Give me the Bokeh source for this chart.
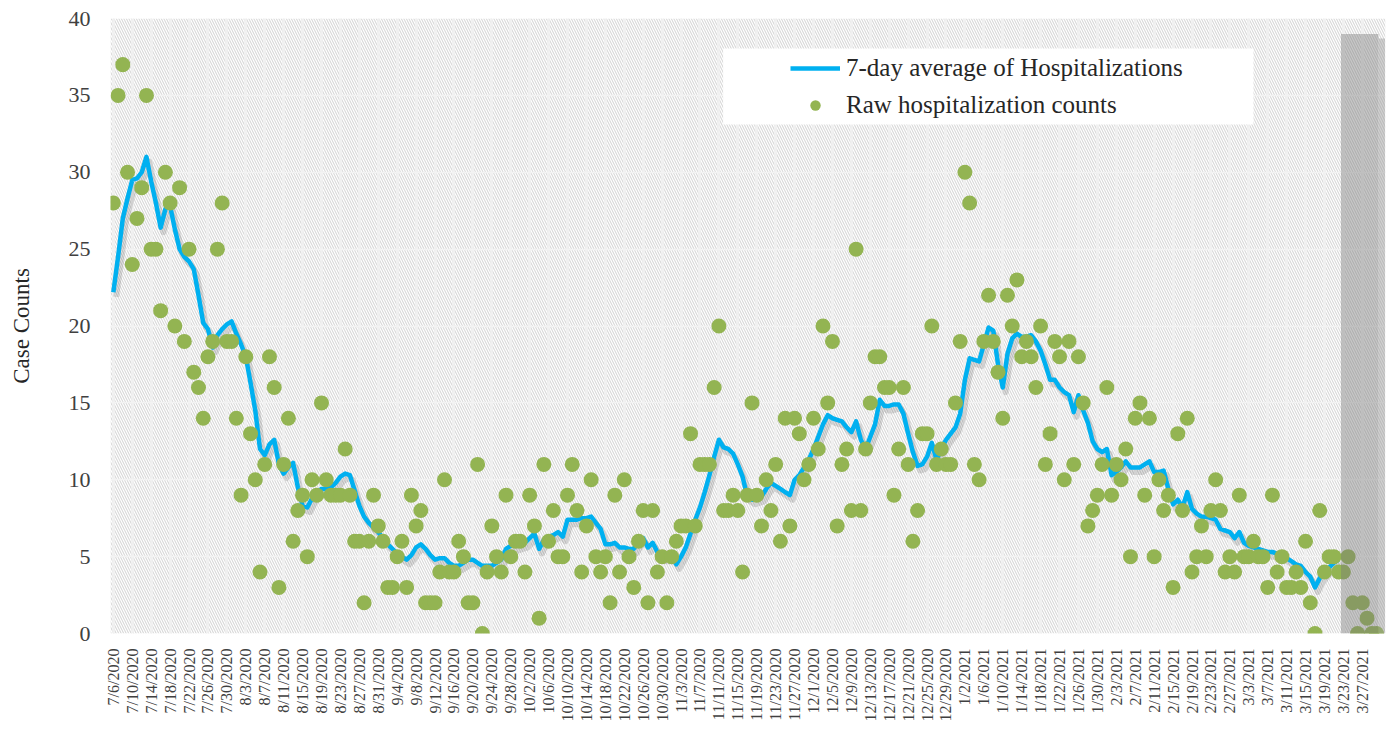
import math
import pandas as pd
from bokeh.plotting import figure
from bokeh.models import (ColumnDataSource, BoxAnnotation, Legend, LegendItem,
                          FixedTicker, Range1d)
from bokeh.transform import dodge
from bokeh.embed import file_html
from bokeh.resources import INLINE

# ---------------- data ----------------
start_date = "2020-07-06"

raw_counts = [
    28, 35, 37, 30, 24, 27, 29, 35, 25, 25,
    21, 30, 28, 20, 29, 19, 25, 17, 16, 14,
    18, 19, 25, 28, 19, 19, 14, 9, 18, 13,
    10, 4, 11, 18, 16, 3, 11, 14, 6, 8,
    9, 5, 10, 9, 15, 10, 9, 9, 9, 12,
    9, 6, 6, 2, 6, 9, 7, 6, 3, 3,
    5, 6, 3, 9, 7, 8, 2, 2, 2, 4,
    10, 4, 4, 6, 5, 2, 2, 11, 0, 4,
    7, 5, 4, 9, 5, 6, 6, 4, 9, 7,
    1, 11, 6, 8, 5, 5, 9, 11, 8, 4,
    7, 10, 5, 4, 5, 2, 9, 4, 10, 5,
    3, 6, 8, 2, 8, 4, 5, 2, 5, 6,
    7, 7, 13, 7, 11, 11, 11, 16, 20, 8,
    8, 9, 8, 4, 9, 15, 9, 7, 10, 8,
    11, 6, 14, 7, 14, 13, 10, 11, 14, 12,
    20, 15, 19, 7, 11, 12, 8, 25, 8, 12,
    15, 18, 18, 16, 16, 9, 12, 16, 11, 6,
    8, 13, 13, 20, 11, 12, 11, 11, 15, 19,
    30, 28, 11, 10, 19, 22, 19, 17, 14, 22,
    20, 23, 18, 19, 18, 16, 20, 11, 13, 19,
    18, 10, 19, 11, 18, 15, 7, 8, 9, 11,
    16, 9, 11, 10, 12, 5, 14, 15, 9, 14,
    5, 10, 8, 9, 3, 13, 8, 14, 4, 5,
    7, 5, 8, 10, 8, 4, 5, 4, 9, 5,
    5, 6, 5, 5, 3, 9, 4, 5, 3, 3,
    4, 3, 6, 2, 0, 8, 4, 5, 5, 4,
    4, 5, 2, 0, 2, 1, 0, 0,
]

avg_7day = [
    22.2, 24.5, 27.0, 28.3, 29.5, 29.6, 30.0, 31.0, 29.4, 28.0,
    26.4, 27.6, 27.8, 26.3, 25.0, 24.5, 24.2, 23.7, 22.0, 20.2,
    19.8, 18.6, 19.4, 19.8, 20.1, 20.3, 19.5, 18.8, 18.0, 16.3,
    14.5, 12.0, 11.6, 12.3, 12.6, 11.0, 10.4, 10.8, 11.1, 9.5,
    8.3, 8.2, 8.8, 9.2, 9.4, 9.4, 9.5, 9.8, 10.2, 10.4,
    10.3, 9.3, 8.3, 7.6, 7.2, 6.9, 6.6, 6.2, 5.8, 5.5,
    5.2, 5.0, 4.8, 5.1, 5.6, 5.8, 5.5, 5.1, 4.8, 4.9,
    4.9, 4.6, 4.4, 4.4, 4.6, 4.8, 4.8, 4.6, 4.4, 4.4,
    4.4, 4.6, 4.8, 5.5, 5.7, 5.7, 5.8, 5.9, 6.2, 6.5,
    5.5, 6.1, 6.3, 6.4, 6.6, 6.3, 7.4, 7.4, 7.4, 7.5,
    7.5, 7.6, 7.2, 6.8, 5.8, 5.8, 5.9, 5.6, 5.6, 5.5,
    5.5, 6.0, 6.2, 5.6, 5.9, 5.3, 5.0, 5.0, 5.0, 4.5,
    5.0, 5.6, 6.5, 7.4, 8.2, 9.2, 10.3, 11.5, 12.6, 12.1,
    12.0, 11.7, 11.0, 10.2, 8.9, 8.7, 8.8, 8.9, 9.4, 9.8,
    9.6, 9.4, 9.2, 9.0, 10.0, 10.3, 10.8, 11.3, 12.0, 12.8,
    13.6, 14.2, 14.0, 13.9, 13.8, 13.4, 13.1, 13.8, 12.6, 12.0,
    12.8, 13.6, 15.2, 14.8, 14.8, 14.9, 14.9, 14.3, 13.0, 11.8,
    10.9, 11.0, 11.5, 12.4, 11.3, 12.0, 12.6, 13.0, 13.4, 14.3,
    16.5, 17.9, 17.8, 17.7, 18.8, 19.9, 19.7, 17.5, 16.0, 18.2,
    19.2, 19.5, 19.3, 19.3, 19.4, 19.0, 18.4, 17.5, 16.5, 16.5,
    16.0, 15.7, 15.5, 14.4, 15.5, 14.5, 13.7, 12.5, 12.0, 11.8,
    12.0, 10.3, 10.5, 10.8, 11.2, 10.8, 10.8, 10.8, 11.0, 11.2,
    10.5, 10.5, 10.6, 9.4, 8.4, 8.7, 8.2, 9.2, 8.1, 7.8,
    7.6, 7.6, 7.5, 7.4, 6.8, 6.7, 6.6, 6.2, 6.6, 5.9,
    5.7, 5.6, 5.5, 5.4, 5.3, 5.3, 5.2, 5.1, 4.9, 4.7,
    4.5, 4.4, 4.0, 3.7, 3.0, 3.6, 4.0, 4.3, 4.6, 4.8,
]

tick_every_days = 4
shade_after_date = "3/22/2021"   # grey shaded (incomplete data) period starts after this day
shade_top_value = 39

legend_line_label = "7-day average of Hospitalizations"
legend_dot_label = "Raw hospitalization counts"
y_label = "Case Counts"

# ---------------- derived ----------------
dates = pd.date_range(start_date, periods=len(raw_counts), freq="D")
date_labels = [f"{d.month}/{d.day}/{d.year}" for d in dates]
day_idx = list(range(len(raw_counts)))
tick_pos = day_idx[::tick_every_days]

raw_src = ColumnDataSource(dict(x=day_idx, y=raw_counts))
avg_src = ColumnDataSource(dict(x=day_idx[:len(avg_7day)], y=avg_7day))

X_START, X_END = -0.6, 268.9
FONT = "Liberation Serif"

p = figure(width=1390, height=724,
           x_range=Range1d(X_START, X_END), y_range=Range1d(0, 40),
           output_backend="svg", toolbar_location=None,
           min_border_left=110, min_border_right=5,
           min_border_top=18, min_border_bottom=90)
p.outline_line_color = None
p.background_fill_color = "white"
p.border_fill_color = "white"

# hatched plot background
hatch = BoxAnnotation(fill_color="white", fill_alpha=1.0,
                      hatch_pattern="left_diagonal_line", hatch_color="#d8d8d8",
                      hatch_weight=1.1, hatch_scale=5, line_color=None,
                      level="image")
p.add_layout(hatch)

# grids
p.xgrid.ticker = FixedTicker(ticks=tick_pos)
p.xgrid.grid_line_color = "#f0f0f0"
p.xgrid.grid_line_width = 2.5
p.ygrid.grid_line_color = "#f3f3f3"
p.ygrid.grid_line_width = 1.5

# legend background box (data units, computed from pixel layout)
legend_bg = BoxAnnotation(left=128.9, right=241.0, bottom=33.1, top=38.05,
                          fill_color="white", fill_alpha=1.0, line_color=None,
                          level="underlay")
p.add_layout(legend_bg)

# line shadow + line
p.line(x=dodge("x", 0.6), y=dodge("y", -0.3), source=avg_src,
       line_color="#000000", line_alpha=0.13, line_width=6, line_join="round")
r_line = p.line("x", "y", source=avg_src, line_color="#00B0F0",
                line_width=4.5, line_join="round")

# raw points
r_dots = p.scatter("x", "y", source=raw_src, size=15, fill_color="#93B452",
                   line_color=None)

# grey shaded period (drawn over the points)
shade_left = date_labels.index(shade_after_date) + 0.5
shade_src = ColumnDataSource(dict(left=[shade_left], right=[X_END - 1.5],
                                  bottom=[0], top=[shade_top_value]))
p.quad(left="left", right="right", bottom="bottom", top="top", source=shade_src,
       fill_color="#7a7a7a", fill_alpha=0.42, line_color=None)
shade_edge = ColumnDataSource(dict(left=[X_END - 1.5], right=[X_END - 0.1],
                                   bottom=[0], top=[shade_top_value - 0.3]))
p.quad(left="left", right="right", bottom="bottom", top="top", source=shade_edge,
       fill_color="#9a9a9a", fill_alpha=0.45, line_color=None)

# axes
p.xaxis.ticker = FixedTicker(ticks=tick_pos)
p.xaxis.major_label_overrides = {i: date_labels[i] for i in tick_pos}
p.xaxis.major_label_orientation = math.pi / 2
p.xaxis.major_label_text_font = FONT
p.xaxis.major_label_text_font_size = "16px"
p.xaxis.major_label_text_color = "#404040"
p.xaxis.major_label_standoff = 9
p.xaxis.axis_line_color = None
p.xaxis.major_tick_line_color = None
p.xaxis.minor_tick_line_color = None

p.yaxis.ticker = FixedTicker(ticks=[0, 5, 10, 15, 20, 25, 30, 35, 40])
p.yaxis.major_label_text_font = FONT
p.yaxis.major_label_text_font_size = "22px"
p.yaxis.major_label_text_color = "#404040"
p.yaxis.major_label_standoff = 14
p.yaxis.axis_line_color = None
p.yaxis.major_tick_line_color = None
p.yaxis.minor_tick_line_color = None
p.yaxis.axis_label = y_label
p.yaxis.axis_label_text_font = FONT
p.yaxis.axis_label_text_font_size = "23px"
p.yaxis.axis_label_text_font_style = "normal"
p.yaxis.axis_label_text_color = "#262626"
p.yaxis.axis_label_standoff = 32

legend = Legend(items=[LegendItem(label=legend_line_label, renderers=[r_line]),
                       LegendItem(label=legend_dot_label, renderers=[r_dots])],
                location=(680, 514), orientation="vertical",
                glyph_width=50, glyph_height=26, label_height=26,
                spacing=9, padding=0, margin=0, label_standoff=6,
                label_text_font=FONT, label_text_font_size="25px",
                label_text_color="#262626",
                background_fill_alpha=0, border_line_color=None)
p.add_layout(legend)

open("out.html", "w").write(file_html(p, INLINE))
